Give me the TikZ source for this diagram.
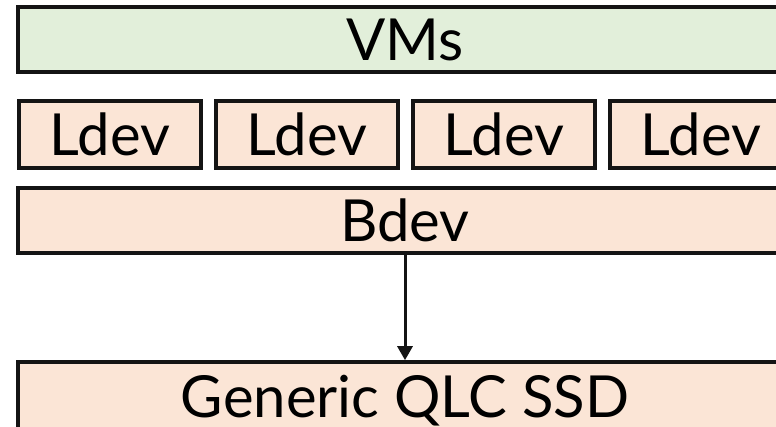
\documentclass[tikz,border=0pt]{standalone}
\usepackage{fontspec}
\setmainfont{Lato}
\usetikzlibrary{arrows.meta}
\definecolor{vmgreen}{HTML}{E2EFDA}
\definecolor{peach}{HTML}{FBE5D6}
\definecolor{edge}{HTML}{141414}
\tikzset{
  layer/.style={draw=edge, line width=3.6pt, rectangle, inner sep=0pt, text height=42pt, text depth=0pt,
    font=\fontsize{58}{60}\selectfont},
  vmbox/.style={layer, fill=vmgreen},
  devbox/.style={layer, fill=peach},
}
\begin{document}
\begin{tikzpicture}[x=1pt,y=-1pt]
\useasboundingbox (0,0) rectangle (776,427);
\clip (0,0) rectangle (776,427);
\node[vmbox, minimum width=774pt, minimum height=65pt] (vms) at (405,39.5) {VMs};
\node[devbox, minimum width=182pt, minimum height=67pt] (l1) at (110,134.5) {Ldev};
\node[devbox, minimum width=182pt, minimum height=67pt] (l2) at (307,134.5) {Ldev};
\node[devbox, minimum width=182pt, minimum height=67pt] (l3) at (504,134.5) {Ldev};
\node[devbox, minimum width=182pt, minimum height=67pt] (l4) at (701,134.5) {Ldev};
\node[devbox, minimum width=774pt, minimum height=65pt] (bdev) at (405,220.5) {Bdev};
\node[devbox, minimum width=774pt, minimum height=68pt] (ssd) at (405,396) {Generic QLC SSD};
\draw[line width=3pt, draw=edge, -{Triangle[length=14pt,width=15pt]}] (bdev.south) -- (ssd.north);
\end{tikzpicture}
\end{document}
